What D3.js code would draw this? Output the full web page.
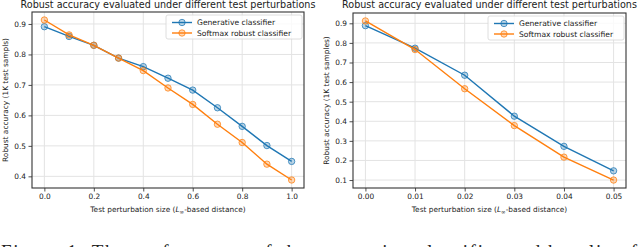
<!DOCTYPE html>
<html>
<head>
<meta charset="utf-8">
<script src="https://cdn.jsdelivr.net/npm/d3@7"></script>
<style>
  body { margin: 0; background: #fff; }
  svg { display: block; }
  text { font-family: "DejaVu Sans", sans-serif; fill: #222; }
</style>
</head>
<body>
<div id="chart"></div>
<script>
// data
var epsLinf = [0.0, 0.1, 0.2, 0.3, 0.4, 0.5, 0.6, 0.7, 0.8, 0.9, 1.0];
var genLinf = [0.891, 0.859, 0.830, 0.788, 0.760, 0.722, 0.683, 0.625, 0.564, 0.501, 0.449];
var softLinf = [0.913, 0.864, 0.830, 0.788, 0.747, 0.690, 0.636, 0.571, 0.511, 0.440, 0.388];

var epsSmall = [0.00, 0.01, 0.02, 0.03, 0.04, 0.05];
var genSmall = [0.888, 0.773, 0.635, 0.426, 0.272, 0.147];
var softSmall = [0.912, 0.766, 0.566, 0.378, 0.217, 0.100];

var xTicksLeft = [0, 0.2, 0.4, 0.6, 0.8, 1.0];
var yTicksLeft = [0.4, 0.5, 0.6, 0.7, 0.8, 0.9];
var xTicksRight = [0, 0.01, 0.02, 0.03, 0.04, 0.05];
var yTicksRight = [0.1, 0.2, 0.3, 0.4, 0.5, 0.6, 0.7, 0.8, 0.9];

var seriesNames = ["Generative classifier", "Softmax robust classifier"];
var colors = ["#1f77b4", "#ff7f0e"];
var title = "Robust accuracy evaluated under different test perturbations";

var width = 640, height = 247;

var svg = d3.select("#chart").append("svg")
    .attr("width", width)
    .attr("height", height);

//pad a domain by 5% like matplotlib does
function padded(vals) {
  var ext = d3.extent(vals);
  var m = (ext[1] - ext[0]) * 0.05;
  return [ext[0] - m, ext[1] + m];
}

function panel(opts) {
  var b = opts.box;
  var x = d3.scaleLinear().domain(padded(opts.xs)).range([b.x0, b.x1]);
  var y = d3.scaleLinear().domain(padded(opts.series[0].concat(opts.series[1]))).range([b.y1, b.y0]);

  var g = svg.append("g");

  //grid
  g.append("g").selectAll("line.vg")
    .data(opts.xTicks).enter().append("line")
    .attr("x1", function(d) { return x(d); })
    .attr("x2", function(d) { return x(d); })
    .attr("y1", b.y0).attr("y2", b.y1)
    .attr("stroke", "#e3e3e3").attr("stroke-width", 1);
  g.append("g").selectAll("line.hg")
    .data(opts.yTicks).enter().append("line")
    .attr("y1", function(d) { return y(d); })
    .attr("y2", function(d) { return y(d); })
    .attr("x1", b.x0).attr("x2", b.x1)
    .attr("stroke", "#e3e3e3").attr("stroke-width", 1);

  //axes
  var xAxis = g.append("g")
    .attr("transform", "translate(0," + b.y1 + ")")
    .call(d3.axisBottom(x).tickValues(opts.xTicks).tickFormat(d3.format(opts.xFmt))
      .tickSize(3.5).tickPadding(2.5));
  var yAxis = g.append("g")
    .attr("transform", "translate(" + b.x0 + ",0)")
    .call(d3.axisLeft(y).tickValues(opts.yTicks).tickFormat(d3.format(".1f"))
      .tickSize(3.5).tickPadding(2.5));
  [xAxis, yAxis].forEach(function(a) {
    a.select(".domain").remove();
    a.selectAll("line").attr("stroke", "#222").attr("stroke-width", 0.8);
    a.selectAll("text").style("font-size", "7.4px").style("fill", "#222")
      .style("font-family", '"DejaVu Sans", sans-serif');
  });

  //frame
  g.append("rect")
    .attr("x", b.x0).attr("y", b.y0)
    .attr("width", b.x1 - b.x0).attr("height", b.y1 - b.y0)
    .attr("fill", "none").attr("stroke", "#333").attr("stroke-width", 1.1);

  //lines and markers
  var line = d3.line()
    .x(function(d, i) { return x(opts.xs[i]); })
    .y(function(d) { return y(d); });
  opts.series.forEach(function(s, k) {
    g.append("path")
      .attr("d", line(s))
      .attr("fill", "none")
      .attr("stroke", colors[k])
      .attr("stroke-width", 1.4);
    g.selectAll(".m" + k)
      .data(s).enter().append("circle")
      .attr("cx", function(d, i) { return x(opts.xs[i]); })
      .attr("cy", function(d) { return y(d); })
      .attr("r", 3.2)
      .attr("fill", colors[k]).attr("fill-opacity", 0.3)
      .attr("stroke", colors[k]).attr("stroke-opacity", 0.75).attr("stroke-width", 1);
  });

  //title and labels
  var cx = (b.x0 + b.x1) / 2;
  g.append("text")
    .attr("x", cx).attr("y", 7.5)
    .attr("text-anchor", "middle")
    .style("font-size", "9.6px")
    .text(title);
  g.append("text")
    .attr("x", cx).attr("y", 212)
    .attr("text-anchor", "middle")
    .style("font-size", "7.4px")
    .html('Test perturbation size (<tspan font-style="italic">L</tspan><tspan font-size="5.5px" dy="1.5">∞</tspan><tspan dy="-1.5">-based distance)</tspan>');
  g.append("text")
    .attr("transform", "translate(" + opts.ylabX + "," + ((b.y0 + b.y1) / 2) + ") rotate(-90)")
    .attr("text-anchor", "middle")
    .style("font-size", "7.4px")
    .text(opts.ylabel);

  //legend
  var lg = g.append("g").attr("transform", "translate(" + (b.x1 - 138) + "," + (b.y0 + 3) + ")");
  lg.append("rect")
    .attr("width", 136).attr("height", 24).attr("rx", 2)
    .attr("fill", "#fff").attr("fill-opacity", 0.8)
    .attr("stroke", "#d5d5d5").attr("stroke-width", 0.8);
  seriesNames.forEach(function(n, k) {
    var yy = 7.5 + k * 10.5;
    lg.append("line")
      .attr("x1", 6).attr("x2", 26).attr("y1", yy).attr("y2", yy)
      .attr("stroke", colors[k]).attr("stroke-width", 1.4);
    lg.append("circle")
      .attr("cx", 16).attr("cy", yy).attr("r", 3.2)
      .attr("fill", colors[k]).attr("fill-opacity", 0.3)
      .attr("stroke", colors[k]).attr("stroke-opacity", 0.75).attr("stroke-width", 1);
    lg.append("text")
      .attr("x", 31).attr("y", yy + 2.7)
      .style("font-size", "7.6px")
      .text(n);
  });
}

panel({
  box: {x0: 32, x1: 304, y0: 12, y1: 188},
  xs: epsLinf, series: [genLinf, softLinf],
  xTicks: xTicksLeft, yTicks: yTicksLeft, xFmt: ".1f",
  ylabel: "Robust accuracy (1K test sampls)", ylabX: 8
});

panel({
  box: {x0: 353, x1: 626, y0: 13, y1: 188},
  xs: epsSmall, series: [genSmall, softSmall],
  xTicks: xTicksRight, yTicks: yTicksRight, xFmt: ".2f",
  ylabel: "Robust accuracy (1K test samples)", ylabX: 329
});

//caption of the paper, cut off at the bottom of the picture as in the source
svg.append("text")
  .attr("x", 1).attr("y", 258)
  .attr("textLength", 636)
  .style("font-family", '"Liberation Serif", serif')
  .style("font-size", "19px")
  .style("fill", "#222")
  .text("Figure 1: The performance of the generative classifier and baseline f");
</script>
</body>
</html>
